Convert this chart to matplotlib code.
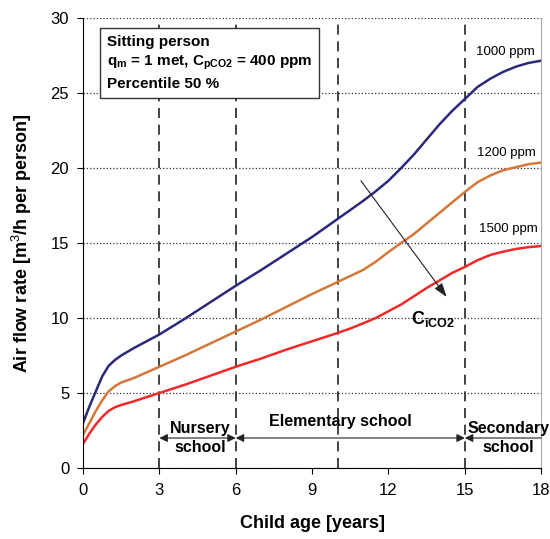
import matplotlib
matplotlib.use("Agg")
from matplotlib import pyplot as plt

plt.rcParams['font.family'] = ['Liberation Sans', 'DejaVu Sans']
plt.rcParams['mathtext.fontset'] = 'custom'
plt.rcParams['mathtext.rm'] = 'Liberation Sans'
plt.rcParams['mathtext.it'] = 'Liberation Sans:italic'
plt.rcParams['mathtext.bf'] = 'Liberation Sans:bold'

# donnees
age = [0, 0.25, 0.5, 0.75, 1, 1.25, 1.5, 2, 3, 4, 5, 6, 7, 8, 9, 10, 10.5, 11, 11.5,
       12, 12.5, 13, 13.5, 14, 14.5, 15, 15.5, 16, 16.5, 17, 17.5, 18]
q_1000 = [3.0, 4.1, 5.1, 6.1, 6.8, 7.2, 7.5, 8.0, 8.9, 9.95, 11.05, 12.15, 13.2, 14.3, 15.4, 16.6, 17.2, 17.8, 18.45,
          19.15, 20.0, 20.9, 21.9, 22.9, 23.8, 24.6, 25.4, 25.95, 26.4, 26.75, 27.0, 27.15]
q_1200 = [2.2, 3.0, 3.8, 4.5, 5.1, 5.45, 5.7, 6.0, 6.75, 7.5, 8.3, 9.1, 9.9, 10.75, 11.6, 12.4, 12.8, 13.2, 13.75,
          14.4, 15.0, 15.6, 16.3, 17.0, 17.7, 18.4, 19.05, 19.5, 19.85, 20.05, 20.25, 20.36]
q_1500 = [1.6, 2.3, 2.9, 3.4, 3.8, 4.05, 4.2, 4.45, 5.0, 5.55, 6.15, 6.75, 7.3, 7.9, 8.45, 9.0, 9.3, 9.64, 10.0,
          10.45, 10.9, 11.45, 12.0, 12.5, 13.0, 13.4, 13.85, 14.2, 14.42, 14.6, 14.72, 14.8]
curve_labels = ['1000 ppm', '1200 ppm', '1500 ppm']
curve_colors = ['#2b2a7a', '#d4783a', '#f02a2a']
school_limits = [3, 6, 10, 15]
xticks = [0, 3, 6, 9, 12, 15, 18]
yticks = [0, 5, 10, 15, 20, 25, 30]

fig = plt.figure(figsize=(5.5, 5.39), dpi=100)
ax = fig.add_axes([0.151, 0.1317, 0.833, 0.835])

for y, c in zip([q_1000, q_1200, q_1500], curve_colors):
    ax.plot(age, y, color=c, lw=1.8)

for xl in school_limits:
    ax.axvline(xl, color='#222222', lw=1.2, ls=(0, (6, 4)), zorder=1)

ax.set_xlim(0, 18)
ax.set_ylim(0, 30)
ax.set_xticks(xticks)
ax.set_yticks(yticks)
ax.tick_params(labelsize=12, direction='out', length=4, width=0.8)
ax.tick_params(axis='x', pad=7)
ax.tick_params(axis='y', pad=6)
ax.yaxis.grid(True, ls=':', color='#333333', lw=0.9)
ax.spines['top'].set_visible(False)
ax.spines['right'].set_color('#aaaaaa')
ax.set_xlabel('Child age [years]', fontsize=13, fontweight='bold', labelpad=12)
ax.set_ylabel('Air flow rate [m$^3$/h per person]', fontsize=13, fontweight='bold', labelpad=12)

# etiquettes des courbes
ax.text(16.58, 27.75, curve_labels[0], fontsize=9.5, ha='center', va='center')
ax.text(16.65, 21.0, curve_labels[1], fontsize=9.5, ha='center', va='center')
ax.text(16.72, 15.9, curve_labels[2], fontsize=9.5, ha='center', va='center')

# fleche C_iCO2
ax.annotate('', xy=(14.35, 11.25), xytext=(10.85, 19.3),
            arrowprops=dict(arrowstyle='-|>,head_length=0.6,head_width=0.2', color='#222222', lw=0.8,
                            mutation_scale=14))
ax.text(13.75, 9.9, 'C$_{\\mathbf{iCO2}}$', fontsize=13, fontweight='bold', ha='center', va='center')

# encadre
ax.text(0.95, 27.0, 'Sitting person\nq$_\\mathbf{m}$ = 1 met, C$_{\\mathbf{pCO2}}$ = 400 ppm\nPercentile 50 %',
        fontsize=11, fontweight='bold', ha='left', va='center', linespacing=1.4,
        bbox=dict(boxstyle='square,pad=0.45', fc='white', ec='#333333', lw=1.0))

# ecoles
arr = dict(arrowstyle='<|-|>', color='#222222', lw=0.8, mutation_scale=12, shrinkA=0, shrinkB=0)
ax.annotate('', xy=(3, 2.0), xytext=(6, 2.0), arrowprops=arr)
ax.annotate('', xy=(6, 2.0), xytext=(15, 2.0), arrowprops=arr)
ax.annotate('', xy=(15, 2.0), xytext=(18, 2.0),
            arrowprops=dict(arrowstyle='-|>', color='#222222', lw=0.8, mutation_scale=12, shrinkA=0, shrinkB=0))
ax.text(4.6, 2.0, 'Nursery\nschool', fontsize=11.5, fontweight='bold', ha='center', va='center', linespacing=1.3)
ax.text(10.1, 3.1, 'Elementary school', fontsize=11.5, fontweight='bold', ha='center', va='center')
ax.text(16.7, 2.0, 'Secondary\nschool', fontsize=11.5, fontweight='bold', ha='center', va='center',
        linespacing=1.3, clip_on=False)

plt.savefig('out.png', dpi=100)
